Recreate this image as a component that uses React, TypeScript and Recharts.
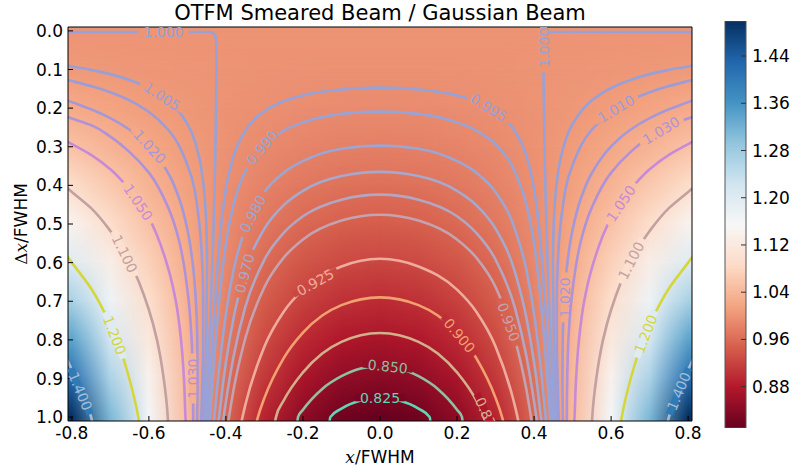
import React from "react";
import {
  ComposedChart,
  Line,
  Bar,
  XAxis,
  YAxis,
  ReferenceArea,
  ReferenceDot,
  Label,
} from "recharts";

const FONT = "'DejaVu Sans', sans-serif";
const MATH = "'DejaVu Serif', serif";

const X_MIN = -0.81;
const X_MAX = 0.81;
const Y_MIN = -0.01;
const Y_MAX = 1.01;

// colour scale limits of the colorbar
const VMIN = 0.81;
const VMAX = 1.4993;

const xTicks = [-0.8, -0.6, -0.4, -0.2, 0, 0.2, 0.4, 0.6, 0.8];
const yTicks = [0, 0.1, 0.2, 0.3, 0.4, 0.5, 0.6, 0.7, 0.8, 0.9, 1.0];
const cbarTicks = [0.88, 0.96, 1.04, 1.12, 1.2, 1.28, 1.36, 1.44];
const cbarData = [{ name: "ratio", range: [VMIN, VMAX] }];

// ratio read on x >= 0, the map is mirror symmetric in x
const xCols = [0, 0.1, 0.2, 0.3, 0.4, 0.5, 0.6, 0.7, 0.8];
const dxRows = [0, 0.1, 0.2, 0.3, 0.4, 0.5, 0.6, 0.7, 0.8, 0.9, 1.0];

const row00 = [1, 1, 1, 1, 1, 1, 1, 1, 1];
const row01 = [0.9977, 0.9978, 0.9982, 0.9988, 0.9997, 1.0009, 1.0023, 1.004, 1.0059];
const row02 = [0.9908, 0.9913, 0.9929, 0.9954, 0.9989, 1.0035, 1.0091, 1.0157, 1.0234];
const row03 = [0.9796, 0.9807, 0.984, 0.9896, 0.9975, 1.0076, 1.0201, 1.035, 1.0523];
const row04 = [0.9642, 0.9662, 0.9719, 0.9816, 0.9952, 1.0129, 1.0348, 1.0611, 1.0919];
const row05 = [0.9451, 0.948, 0.9567, 0.9714, 0.9921, 1.0191, 1.0527, 1.0934, 1.1415];
const row06 = [0.9227, 0.9267, 0.9387, 0.959, 0.9878, 1.0256, 1.0731, 1.131, 1.2002];
const row07 = [0.8975, 0.9026, 0.9182, 0.9445, 0.9821, 1.0319, 1.095, 1.1727, 1.2668];
const row08 = [0.8699, 0.8763, 0.8954, 0.928, 0.975, 1.0375, 1.1176, 1.2174, 1.3399];
const row09 = [0.8406, 0.8481, 0.8709, 0.9098, 0.9661, 1.0419, 1.14, 1.2639, 1.418];
const row10 = [0.81, 0.8186, 0.8449, 0.8899, 0.9556, 1.0448, 1.1614, 1.3107, 1.4993];
const ratioRows = [row00, row01, row02, row03, row04, row05, row06, row07, row08, row09, row10];

// contour levels and line colours
const levelValues = [0.825, 0.85, 0.875, 0.9, 0.925, 0.95, 0.96, 0.97, 0.98, 0.99, 0.995, 1.0, 1.005, 1.01, 1.02, 1.03, 1.05, 1.1, 1.2, 1.4];
const levelColors = [
  "#5fd6b4", "#90bfa2", "#d2b08c", "#f2a070", "#eeac9c", "#c4a2b0", "#b2a6c2", "#a6a8cc",
  "#9ca6d2", "#98a4d6", "#96a2d8", "#96a2d8", "#98a0d8", "#9c9cd8", "#a498d8", "#b092d8",
  "#c88ad6", "#c4a0a0", "#d6d63a", "#a4bcd6",
];

type Pt = [number, number];

// contour paths (x, dx) on the right half
const c0825: Pt[] = [[0, 0.95], [0.05, 0.957], [0.1, 0.978], [0.129, 1.0], [0.132, 1.02]];
const c0850: Pt[] = [[0, 0.868], [0.05, 0.874], [0.1, 0.894], [0.15, 0.927], [0.2, 0.981], [0.213, 1.0], [0.215, 1.02]];
const c0875: Pt[] = [[0, 0.782], [0.1, 0.805], [0.15, 0.835], [0.2, 0.884], [0.25, 0.957], [0.27, 1.0], [0.274, 1.02]];
const c0900: Pt[] = [[0, 0.69], [0.1, 0.71], [0.15, 0.737], [0.2, 0.781], [0.25, 0.847], [0.3, 0.95], [0.317, 1.0], [0.322, 1.02]];
const c0925: Pt[] = [[0, 0.59], [0.1, 0.61], [0.2, 0.67], [0.25, 0.727], [0.3, 0.817], [0.35, 0.97], [0.357, 1.0], [0.361, 1.02]];
const c0950: Pt[] = [[0, 0.476], [0.1, 0.491], [0.2, 0.54], [0.25, 0.587], [0.3, 0.663], [0.35, 0.797], [0.38, 0.928], [0.392, 1.0], [0.395, 1.02]];
const c0960: Pt[] = [[0, 0.424], [0.1, 0.437], [0.2, 0.48], [0.25, 0.523], [0.3, 0.592], [0.35, 0.716], [0.38, 0.842], [0.4, 0.96], [0.406, 1.0], [0.409, 1.02]];
const c0970: Pt[] = [[0, 0.365], [0.1, 0.376], [0.2, 0.414], [0.25, 0.451], [0.3, 0.512], [0.35, 0.623], [0.38, 0.742], [0.4, 0.858], [0.406, 0.9], [0.418, 1.0], [0.421, 1.02]];
const c0980: Pt[] = [[0, 0.297], [0.1, 0.305], [0.2, 0.337], [0.25, 0.367], [0.3, 0.417], [0.35, 0.512], [0.38, 0.618], [0.4, 0.732], [0.409, 0.8], [0.4205, 0.9], [0.43, 1.0], [0.432, 1.02]];
const c0990: Pt[] = [[0, 0.209], [0.1, 0.215], [0.2, 0.237], [0.25, 0.258], [0.3, 0.294], [0.35, 0.364], [0.38, 0.449], [0.4, 0.551], [0.4066, 0.6], [0.4176, 0.7], [0.4265, 0.8], [0.4345, 0.9], [0.442, 1.0], [0.4435, 1.02]];
const c0995: Pt[] = [[0, 0.147], [0.1, 0.152], [0.2, 0.167], [0.25, 0.182], [0.3, 0.208], [0.35, 0.259], [0.38, 0.323], [0.4, 0.4085], [0.412, 0.5], [0.421, 0.6], [0.428, 0.7], [0.435, 0.8], [0.441, 0.9], [0.448, 1.0], [0.449, 1.02]];
const c1000: Pt[] = [[0.82, 0.003], [0.44, 0.003], [0.43, 0.008], [0.4255, 0.02], [0.4247, 0.05], [0.4245, 0.1], [0.4257, 0.2], [0.4272, 0.3], [0.4292, 0.4], [0.4319, 0.5], [0.4351, 0.6], [0.4389, 0.7], [0.4432, 0.8], [0.4481, 0.9], [0.4533, 1.0], [0.4545, 1.02]];
const c1005: Pt[] = [[0.82, 0.088], [0.8, 0.092], [0.75, 0.101], [0.7, 0.112], [0.65, 0.127], [0.6, 0.148], [0.55, 0.18], [0.5, 0.241], [0.47, 0.325], [0.458, 0.4], [0.451, 0.5], [0.449, 0.6], [0.45, 0.7], [0.4513, 0.8], [0.4546, 0.9], [0.4587, 1.0], [0.4595, 1.02]];
const c1010: Pt[] = [[0.82, 0.125], [0.8, 0.13], [0.75, 0.143], [0.7, 0.159], [0.65, 0.18], [0.6, 0.21], [0.55, 0.256], [0.5, 0.347], [0.47, 0.49], [0.4616, 0.6], [0.459, 0.7], [0.459, 0.8], [0.461, 0.9], [0.464, 1.0], [0.465, 1.02]];
const c1020: Pt[] = [[0.82, 0.177], [0.8, 0.1845], [0.75, 0.203], [0.7, 0.226], [0.65, 0.256], [0.6, 0.299], [0.55, 0.368], [0.52, 0.438], [0.5, 0.5145], [0.4864, 0.6], [0.478, 0.7], [0.4744, 0.8], [0.4736, 0.9], [0.4748, 1.0], [0.475, 1.02]];
const c1030: Pt[] = [[0.82, 0.22], [0.8, 0.227], [0.75, 0.244], [0.7, 0.274], [0.65, 0.314], [0.6, 0.367], [0.55, 0.457], [0.52, 0.55], [0.51, 0.6], [0.5, 0.67], [0.4965, 0.7], [0.489, 0.8], [0.486, 0.9], [0.485, 1.0], [0.485, 1.02]];
const c1050: Pt[] = [[0.82, 0.282], [0.8, 0.293], [0.75, 0.321], [0.7, 0.358], [0.65, 0.411], [0.6, 0.485], [0.55, 0.614], [0.53, 0.7], [0.5165, 0.8], [0.509, 0.9], [0.505, 1.0], [0.504, 1.02]];
const c1100: Pt[] = [[0.82, 0.4], [0.8, 0.417], [0.75, 0.459], [0.7, 0.518], [0.65, 0.598], [0.6, 0.722], [0.579, 0.8], [0.5615, 0.9], [0.551, 1.0], [0.55, 1.02]];
const c1200: Pt[] = [[0.82, 0.573], [0.8, 0.6], [0.75, 0.667], [0.7, 0.761], [0.683, 0.8], [0.651, 0.9], [0.6275, 1.0], [0.624, 1.02]];
const c1400: Pt[] = [[0.82, 0.835], [0.8, 0.877], [0.789, 0.9], [0.75, 1.0], [0.745, 1.02]];

// "across" paths are mirrored and joined at x = 0, "sides" are drawn on each half
const contours: { level: number; pts: Pt[]; kind: "across" | "sides" | "unit" }[] = [
  { level: 0.825, pts: c0825, kind: "across" },
  { level: 0.85, pts: c0850, kind: "across" },
  { level: 0.875, pts: c0875, kind: "across" },
  { level: 0.9, pts: c0900, kind: "across" },
  { level: 0.925, pts: c0925, kind: "across" },
  { level: 0.95, pts: c0950, kind: "across" },
  { level: 0.96, pts: c0960, kind: "across" },
  { level: 0.97, pts: c0970, kind: "across" },
  { level: 0.98, pts: c0980, kind: "across" },
  { level: 0.99, pts: c0990, kind: "across" },
  { level: 0.995, pts: c0995, kind: "across" },
  { level: 1.0, pts: c1000, kind: "unit" },
  { level: 1.005, pts: c1005, kind: "sides" },
  { level: 1.01, pts: c1010, kind: "sides" },
  { level: 1.02, pts: c1020, kind: "sides" },
  { level: 1.03, pts: c1030, kind: "sides" },
  { level: 1.05, pts: c1050, kind: "sides" },
  { level: 1.1, pts: c1100, kind: "sides" },
  { level: 1.2, pts: c1200, kind: "sides" },
  { level: 1.4, pts: c1400, kind: "sides" },
];

// inline contour labels
const contourLabels = [
  { text: "1.000", level: 1.0, x: -0.562, y: 0.003, angle: 0 },
  { text: "1.005", level: 1.005, x: -0.566, y: 0.17, angle: 33 },
  { text: "1.020", level: 1.02, x: -0.598, y: 0.3, angle: 48 },
  { text: "1.050", level: 1.05, x: -0.628, y: 0.444, angle: 56 },
  { text: "1.100", level: 1.1, x: -0.663, y: 0.577, angle: 64 },
  { text: "1.200", level: 1.2, x: -0.689, y: 0.788, angle: 69 },
  { text: "1.400", level: 1.4, x: -0.778, y: 0.933, angle: 67 },
  { text: "1.030", level: 1.03, x: -0.486, y: 0.9, angle: -90 },
  { text: "0.990", level: 0.99, x: -0.306, y: 0.302, angle: -50 },
  { text: "0.980", level: 0.98, x: -0.33, y: 0.474, angle: -62 },
  { text: "0.970", level: 0.97, x: -0.351, y: 0.628, angle: -75 },
  { text: "0.925", level: 0.925, x: -0.168, y: 0.651, angle: -29 },
  { text: "0.850", level: 0.85, x: 0.02, y: 0.869, angle: 6 },
  { text: "0.825", level: 0.825, x: 0.0, y: 0.95, angle: 0 },
  { text: "0.995", level: 0.995, x: 0.282, y: 0.199, angle: 32 },
  { text: "0.900", level: 0.9, x: 0.206, y: 0.789, angle: 50 },
  { text: "0.950", level: 0.95, x: 0.334, y: 0.754, angle: 70 },
  { text: "0.875", level: 0.875, x: 0.279, y: 0.998, angle: 65 },
  { text: "1.000", level: 1.0, x: 0.4247, y: 0.043, angle: -90 },
  { text: "1.010", level: 1.01, x: 0.613, y: 0.202, angle: -31 },
  { text: "1.030", level: 1.03, x: 0.73, y: 0.258, angle: -31 },
  { text: "1.050", level: 1.05, x: 0.626, y: 0.447, angle: -56 },
  { text: "1.100", level: 1.1, x: 0.652, y: 0.595, angle: -63 },
  { text: "1.200", level: 1.2, x: 0.69, y: 0.785, angle: -69 },
  { text: "1.400", level: 1.4, x: 0.776, y: 0.933, angle: -67 },
  { text: "1.020", level: 1.02, x: 0.479, y: 0.69, angle: -90 },
];

const rdbu = [
  "#67001f", "#b2182b", "#d6604d", "#f4a582", "#fddbc7", "#f7f7f7",
  "#d1e5f0", "#92c5de", "#4393c3", "#2166ac", "#053061",
];

function hexRgb(c: string) {
  return [1, 3, 5].map((i) => parseInt(c.slice(i, i + 2), 16));
}

function cmap(v: number) {
  const t = Math.max(0, Math.min(1, (v - VMIN) / (VMAX - VMIN))) * 10;
  const i = Math.min(9, Math.floor(t));
  const f = t - i;
  const a = hexRgb(rdbu[i]);
  const b = hexRgb(rdbu[i + 1]);
  const m = a.map((c, k) => Math.round(c + (b[k] - c) * f));
  return `rgb(${m[0]},${m[1]},${m[2]})`;
}

function levelColor(level: number) {
  return levelColors[levelValues.indexOf(level)];
}

const xFull = [...xCols.slice(1).reverse().map((x) => -x), ...xCols];
const mirrorRow = (row: number[]) => [...row.slice(1).reverse(), ...row];

const tickStyle = { fill: "#000", fontSize: 17, fontFamily: FONT };

export default function App() {
  const lines: React.ReactElement[] = [];
  contours.forEach((c, ci) => {
    const color = levelColor(c.level);
    const common = {
      xAxisId: "b",
      yAxisId: "l",
      dataKey: "y",
      stroke: color,
      strokeWidth: 2.6,
      dot: false,
      activeDot: false,
      isAnimationActive: false,
    };
    if (c.kind === "across") {
      const full = [
        ...c.pts.slice(1).reverse().map(([x, y]) => ({ x: -x, y })),
        ...c.pts.map(([x, y]) => ({ x, y })),
      ];
      lines.push(<Line key={`c${ci}`} {...common} data={full} type="monotoneX" />);
    } else {
      const type = c.kind === "unit" ? "linear" : "monotoneY";
      lines.push(<Line key={`r${ci}`} {...common} data={c.pts.map(([x, y]) => ({ x, y }))} type={type} />);
      lines.push(<Line key={`l${ci}`} {...common} data={c.pts.map(([x, y]) => ({ x: -x, y }))} type={type} />);
    }
  });

  return (
    <div style={{ position: "absolute", left: 0, top: 0, width: 792, height: 472, background: "#fff" }}>
      <div style={{ position: "absolute", left: 0, top: 0 }}>
        <ComposedChart width={792} height={472} margin={{ top: 26, right: 99, bottom: 0, left: 0 }}>
          <defs>
            {ratioRows.map((row, i) => {
              const vals = mirrorRow(row);
              return (
                <linearGradient key={i} id={`hm-row-${i}`} x1="0" y1="0" x2="1" y2="0">
                  {xFull.map((x, j) => (
                    <stop key={j} offset={(x - X_MIN) / (X_MAX - X_MIN)} stopColor={cmap(vals[j])} />
                  ))}
                </linearGradient>
              );
            })}
            <linearGradient id="hm-ramp" x1="0" y1="0" x2="0" y2="1">
              <stop offset="0" stopColor="#fff" stopOpacity={0} />
              <stop offset="0.5" stopColor="#fff" stopOpacity={1} />
              <stop offset="1" stopColor="#fff" stopOpacity={1} />
            </linearGradient>
            <mask id="hm-mask" maskContentUnits="objectBoundingBox">
              <rect x="0" y="0" width="1" height="1" fill="url(#hm-ramp)" />
            </mask>
          </defs>

          {dxRows.map((d, i) => {
            const step = i === 0 ? dxRows[1] - dxRows[0] : d - dxRows[i - 1];
            const y1 = i === 0 ? d - 0.05 : d - step;
            const y2 = d + step;
            return (
              <ReferenceArea
                key={`band${i}`}
                xAxisId="b"
                yAxisId="l"
                x1={X_MIN}
                x2={X_MAX}
                y1={y1}
                y2={y2}
                ifOverflow="hidden"
                shape={(p: any) => (
                  <g clipPath={p.clipPath}>
                    <rect
                      x={p.x}
                      y={p.y}
                      width={p.width}
                      height={p.height}
                      fill={`url(#hm-row-${i})`}
                      mask={i === 0 ? undefined : "url(#hm-mask)"}
                    />
                  </g>
                )}
              />
            );
          })}

          {lines}

          {contourLabels.map((lab, i) => (
            <ReferenceDot
              key={`lab${i}`}
              xAxisId="b"
              yAxisId="l"
              x={lab.x}
              y={lab.y}
              r={0}
              ifOverflow="hidden"
              shape={(p: any) => {
                if (p.cx == null || p.cy == null) return <g />;
                const w = lab.text.length * 8.4 + 8;
                return (
                  <g clipPath={p.clipPath}>
                    <g transform={`translate(${p.cx},${p.cy}) rotate(${lab.angle})`}>
                      <rect x={-w / 2} y={-3.5} width={w} height={7} fill={cmap(lab.level)} />
                      <text
                        x={0}
                        y={0}
                        textAnchor="middle"
                        dominantBaseline="central"
                        fontSize={14}
                        fontFamily={FONT}
                        fill={levelColor(lab.level)}
                      >
                        {lab.text}
                      </text>
                    </g>
                  </g>
                );
              }}
            />
          ))}

          <XAxis
            xAxisId="b"
            type="number"
            dataKey="x"
            domain={[X_MIN, X_MAX]}
            ticks={xTicks}
            tickFormatter={(v: number) => v.toFixed(1)}
            allowDataOverflow
            height={51}
            tickSize={-5}
            tickMargin={11}
            stroke="#000"
            tick={tickStyle}
          >
            <Label
              content={(p: any) => {
                const vb = p.viewBox || { x: 68, width: 624 };
                return (
                  <text x={vb.x + vb.width / 2} y={463} textAnchor="middle" fontSize={17} fontFamily={FONT} fill="#000">
                    <tspan fontFamily={MATH} fontStyle="italic">x</tspan>
                    <tspan>/FWHM</tspan>
                  </text>
                );
              }}
            />
          </XAxis>
          <XAxis
            xAxisId="t"
            orientation="top"
            type="number"
            dataKey="x"
            domain={[X_MIN, X_MAX]}
            ticks={xTicks}
            allowDataOverflow
            height={1}
            tickSize={-5}
            tick={false}
            stroke="#000"
          >
            <Label
              content={(p: any) => {
                const vb = p.viewBox || { x: 68, width: 624 };
                return (
                  <text x={vb.x + vb.width / 2} y={20} textAnchor="middle" fontSize={21} fontFamily={FONT} fill="#000">
                    OTFM Smeared Beam / Gaussian Beam
                  </text>
                );
              }}
            />
          </XAxis>
          <YAxis
            yAxisId="l"
            type="number"
            domain={[Y_MIN, Y_MAX]}
            reversed
            ticks={yTicks}
            tickFormatter={(v: number) => v.toFixed(1)}
            allowDataOverflow
            width={68}
            tickSize={-5}
            tickMargin={10}
            stroke="#000"
            tick={tickStyle}
          >
            <Label
              content={() => (
                <text
                  transform="translate(27,224) rotate(-90)"
                  x={0}
                  y={0}
                  textAnchor="middle"
                  fontSize={17}
                  fontFamily={FONT}
                  fill="#000"
                >
                  <tspan fontFamily={MATH}>Δ</tspan>
                  <tspan fontFamily={MATH} fontStyle="italic">x</tspan>
                  <tspan>/FWHM</tspan>
                </text>
              )}
            />
          </YAxis>
          <YAxis
            yAxisId="r"
            orientation="right"
            type="number"
            domain={[Y_MIN, Y_MAX]}
            reversed
            ticks={yTicks}
            allowDataOverflow
            width={1}
            tickSize={-5}
            tick={false}
            stroke="#000"
          />
        </ComposedChart>
      </div>

      <div style={{ position: "absolute", left: 700, top: 0 }}>
        <ComposedChart
          width={92}
          height={472}
          data={cbarData}
          margin={{ top: 21, right: 0, bottom: 43, left: 25 }}
          barCategoryGap={0}
        >
          <defs>
            <linearGradient id="cbar-grad" x1="0" y1="1" x2="0" y2="0">
              {rdbu.map((c, i) => (
                <stop key={i} offset={i / 10} stopColor={c} />
              ))}
            </linearGradient>
          </defs>
          <Bar
            dataKey="range"
            fill="url(#cbar-grad)"
            stroke="#555"
            strokeWidth={1}
            isAnimationActive={false}
          />
          <XAxis
            dataKey="name"
            type="category"
            height={1}
            tick={false}
            tickLine={false}
            axisLine={false}
          />
          <YAxis
            orientation="right"
            type="number"
            domain={[VMIN, VMAX]}
            ticks={cbarTicks}
            tickFormatter={(v: number) => v.toFixed(2)}
            allowDataOverflow
            width={46}
            tickSize={-5}
            tickMargin={11}
            axisLine={false}
            stroke="#333"
            tick={tickStyle}
          />
        </ComposedChart>
      </div>
    </div>
  );
}
